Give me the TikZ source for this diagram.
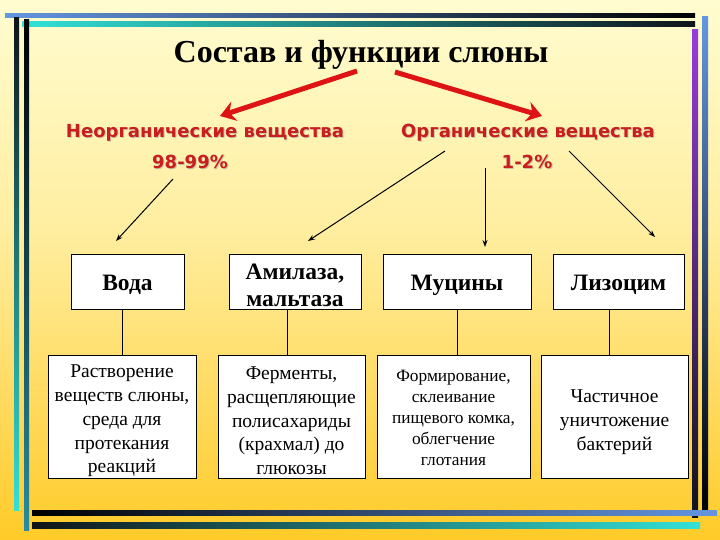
\documentclass[tikz,border=0pt]{standalone}
\usepackage{fontspec}
\setmainfont{Liberation Serif}
\newfontfamily\redsans{DejaVu Sans}
\usetikzlibrary{arrows.meta}
\definecolor{bgtop}{RGB}{255,252,208}
\definecolor{bgmid}{RGB}{255,238,160}
\definecolor{bgmid2}{RGB}{255,218,95}
\definecolor{bgbot}{RGB}{255,203,40}
\definecolor{lblred}{RGB}{200,30,30}
\definecolor{arrred}{RGB}{222,20,20}
\definecolor{lnblue}{RGB}{100,150,225}
\definecolor{lncyan}{RGB}{50,225,215}
\definecolor{lnteal}{RGB}{40,140,160}
\definecolor{lnpurple}{RGB}{150,60,220}
\definecolor{lndark}{RGB}{15,20,25}
\tikzset{
  boxframe/.style={draw=black, line width=0.8pt, fill=white, inner sep=0pt},
  topbox/.style={boxframe, minimum height=55pt},
  botbox/.style={boxframe, minimum height=123pt},
  toptext/.style={align=center, inner sep=0pt, font=\fontsize{23.5}{27}\selectfont\bfseries},
  bottext/.style={align=center, inner sep=0pt, font=\fontsize{19.5}{23.7}\selectfont},
  redlbl/.style={text=lblred, font=\redsans\fontsize{18}{20}\selectfont\bfseries},
  redshadow/.style={redlbl, text=black!40, opacity=0.5},
  redarrow/.style={draw=arrred, line width=5pt, -{Stealth[length=15pt,width=20pt,inset=5pt]}},
  blkarrow/.style={draw=black, line width=1pt, -{Stealth[length=7pt,width=5pt]}},
  link/.style={draw=black, line width=0.8pt}
}
\begin{document}
\begin{tikzpicture}[x=1pt,y=-1pt]
\useasboundingbox (0,0) rectangle (720,540);
% background
\shade[top color=bgtop, bottom color=bgmid] (0,0) rectangle (720,230);
\shade[top color=bgmid, bottom color=bgmid2] (0,230) rectangle (720,400);
\shade[top color=bgmid2, bottom color=bgbot] (0,400) rectangle (720,540);
% frame lines
\shade[left color=lnblue, right color=black] (5,14) rectangle (695,18);
\shade[left color=lncyan, right color=lndark] (22,22) rectangle (695,27);
\shade[top color=lndark, bottom color=lncyan] (14,18) rectangle (19,510);
\shade[top color=black, bottom color=lnteal] (24,20) rectangle (29,530);
\shade[top color=lnpurple, bottom color=lndark] (692,30) rectangle (698,517);
\shade[top color=lnblue, bottom color=black] (702,17) rectangle (708,510);
\shade[left color=black, right color=lnblue] (32,510) rectangle (717,515);
\shade[left color=lndark, right color=lncyan] (32,522) rectangle (700,528);
% title
\node (title) at (361,55) {\fontsize{32}{34}\selectfont\bfseries Состав и функции слюны};
% red labels
\node[redshadow] at (206,134) {Неорганические вещества};
\node[redlbl] (inorg) at (205,133) {Неорганические вещества};
\node[redshadow] at (191,163) {98-99\%};
\node[redlbl] (inorgp) at (190,162) {98-99\%};
\node[redshadow] at (529,134) {Органические вещества};
\node[redlbl] (org) at (528,133) {Органические вещества};
\node[redshadow] at (528,163) {1-2\%};
\node[redlbl] (orgp) at (527,162) {1-2\%};
% red arrows
\coordinate (rl0) at (357,71);
\coordinate (rl1) at (220,116);
\coordinate (rr0) at (395,72);
\coordinate (rr1) at (542,116);
\draw[redarrow] (rl0) -- (rl1);
\draw[redarrow] (rr0) -- (rr1);
% top boxes
\node[topbox, minimum width=113pt] (voda) at (127.5,281.5) {};
\node[topbox, minimum width=132pt] (amil) at (295,281.5) {};
\node[topbox, minimum width=148pt] (muc) at (457,281.5) {};
\node[topbox, minimum width=131pt] (liz) at (618.5,281.5) {};
\node[toptext] (vodat) at (127.5,285) {Вода};
\node[toptext] (amilt) at (295,285) {Амилаза,\\мальтаза};
\node[toptext] (muct) at (457,285) {Муцины};
\node[toptext] (lizt) at (618.5,285) {Лизоцим};
% bottom boxes
\node[botbox, minimum width=148pt] (b1) at (122,416.5) {};
\node[botbox, minimum width=147pt] (b2) at (291.5,416.5) {};
\node[botbox, minimum width=153pt] (b3) at (453.5,416.5) {};
\node[botbox, minimum width=147pt] (b4) at (614.5,416.5) {};
\node[bottext] (b1t) at (122,421) {Растворение\\веществ слюны,\\среда для\\протекания\\реакций};
\node[bottext] (b2t) at (291.5,421) {Ферменты,\\расщепляющие\\полисахариды\\(крахмал) до\\глюкозы};
\node[bottext, font=\fontsize{17.3}{21}\selectfont] (b3t) at (453.5,418) {Формирование,\\склеивание\\пищевого комка,\\облегчение\\глотания};
\node[bottext] (b4t) at (614.5,422) {Частичное\\уничтожение\\бактерий};
% black arrows
\coordinate (a1s) at (173,179);
\coordinate (a2s) at (445,151);
\coordinate (a3s) at (485,168);
\coordinate (a4s) at (569,151);
\draw[blkarrow] (a1s) -- (116,241);
\draw[blkarrow] (a2s) -- (308,241);
\draw[blkarrow] (a3s) -- (485,247);
\draw[blkarrow] (a4s) -- (655,237);
% links
\draw[link] (b1.north) -- (b1.north |- voda.south);
\draw[link] ([xshift=-4.5pt]b2.north) -- ([xshift=-4.5pt]b2.north |- amil.south);
\draw[link] ([xshift=3.5pt]b3.north) -- ([xshift=3.5pt]b3.north |- muc.south);
\draw[link] ([xshift=-5.5pt]b4.north) -- ([xshift=-5.5pt]b4.north |- liz.south);
\end{tikzpicture}
\end{document}
